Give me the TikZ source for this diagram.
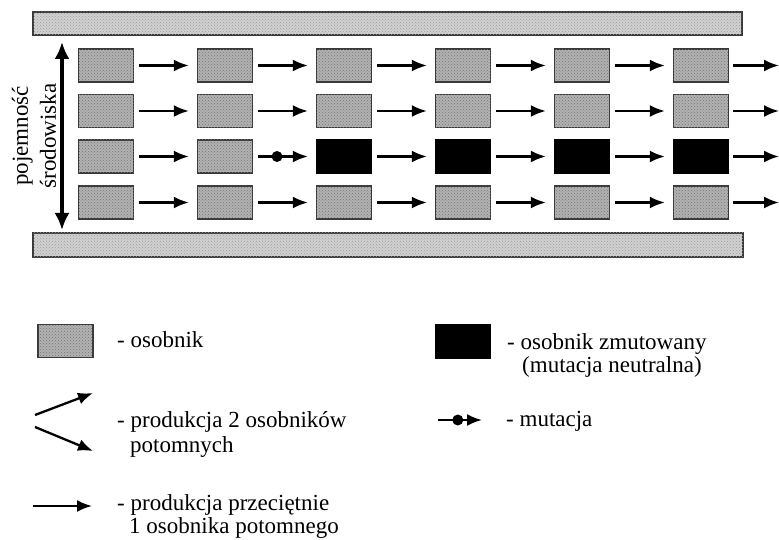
\documentclass[tikz,border=0pt]{standalone}
\usepackage{fontspec}
\setmainfont{Liberation Serif}
\usetikzlibrary{arrows.meta,patterns}
\begin{document}
\begin{tikzpicture}[x=1pt,y=-1pt,
  indiv/.style={draw=black!78, line width=1.3pt, fill=black!30,
    postaction={pattern=crosshatch dots, pattern color=black!55},
    minimum width=55pt, minimum height=33pt, inner sep=0pt},
  mutant/.style={draw=black, line width=1.3pt, fill=black,
    minimum width=55pt, minimum height=33pt, inner sep=0pt},
  bar/.style={draw=black!78, line width=1.3pt, fill=black!18,
    postaction={pattern=crosshatch dots, pattern color=black!40}},
  flow/.style={-{Latex[length=15pt,width=12pt]}, line width=2.3pt},
  dot/.style={circle, fill=black, inner sep=0pt, minimum size=11pt},
  label/.style={font=\fontsize{23}{27}\selectfont, inner sep=0pt, anchor=base west},
]
\useasboundingbox (0,0) rectangle (779,540);

% environment limits
\path[bar] (33,12) rectangle (742,35);
\path[bar] (33,233) rectangle (743,257);

% individuals: rows 1, 2, 4 unchanged
\foreach \r/\y in {1/65.5,2/111,4/202.5}
  \foreach \c in {1,...,6}
    \node[indiv] (b\r\c) at ({106+119*(\c-1)},\y) {};
% row 3: mutated from generation 3 on
\foreach \c in {1,2}
  \node[indiv] (b3\c) at ({106+119*(\c-1)},156.5) {};
\foreach \c in {3,...,6}
  \node[mutant] (b3\c) at ({106+119*(\c-1)},156.5) {};

% descent arrows
\foreach \r in {1,2,4}
  \foreach \c/\d in {1/2,2/3,3/4,4/5,5/6}
    \draw[flow] ([xshift=5pt]b\r\c.east) -- ([xshift=-8pt]b\r\d.west);
\foreach \c/\d in {1/2,3/4,4/5,5/6}
  \draw[flow] ([xshift=5pt]b3\c.east) -- ([xshift=-8pt]b3\d.west);
\draw[flow] ([xshift=5pt]b32.east) -- node[dot, pos=0.38] (mut) {} ([xshift=-8pt]b33.west);

% arrows leaving the last generation
\foreach \r/\y in {1/65.5,2/111,3/156.5,4/202.5} {
  \coordinate (e\r) at (779,\y);
  \draw[flow] ([xshift=4pt]b\r6.east) -- (e\r);
}

% carrying capacity
\coordinate (kTop) at (62,42);
\coordinate (kBot) at (62,230);
\draw[{Latex[length=17pt,width=15pt]}-{Latex[length=17pt,width=15pt]}, line width=3.2pt] (kTop) -- (kBot);
\node[rotate=90, align=center, font=\fontsize{23}{28}\selectfont, inner sep=0pt] (kLabel) at (34,136) {pojemność\\środowiska};

% legend
\node[indiv] (lgInd) at (65.5,341) {};
\node[label] (tInd) at (117,347) {- osobnik};

\coordinate (sA) at (35,415);
\coordinate (sA2) at (93,393);
\coordinate (sB) at (35,427);
\coordinate (sB2) at (93,451);
\draw[flow] (sA) -- (sA2);
\draw[flow] (sB) -- (sB2);
\node[label] (tTwo) at (117,427) {- produkcja 2 osobników};
\node[label] (tTwoB) at (130,452) {potomnych};

\coordinate (oA) at (33,506);
\coordinate (oB) at (92,506);
\draw[flow] (oA) -- (oB);
\node[label] (tOne) at (117,510) {- produkcja przeciętnie};
\node[label] (tOneB) at (129,533) {1 osobnika potomnego};

\node[mutant] (lgMut) at (463,341.5) {};
\node[label] (tMut) at (507,349) {- osobnik zmutowany};
\node[label] (tMutB) at (522,372) {(mutacja neutralna)};

\coordinate (mA) at (438,420);
\coordinate (mB) at (482,420);
\draw[flow] (mA) -- node[dot, pos=0.45] (mDot) {} (mB);
\node[label] (tMutation) at (506,426) {- mutacja};
\end{tikzpicture}
\end{document}
